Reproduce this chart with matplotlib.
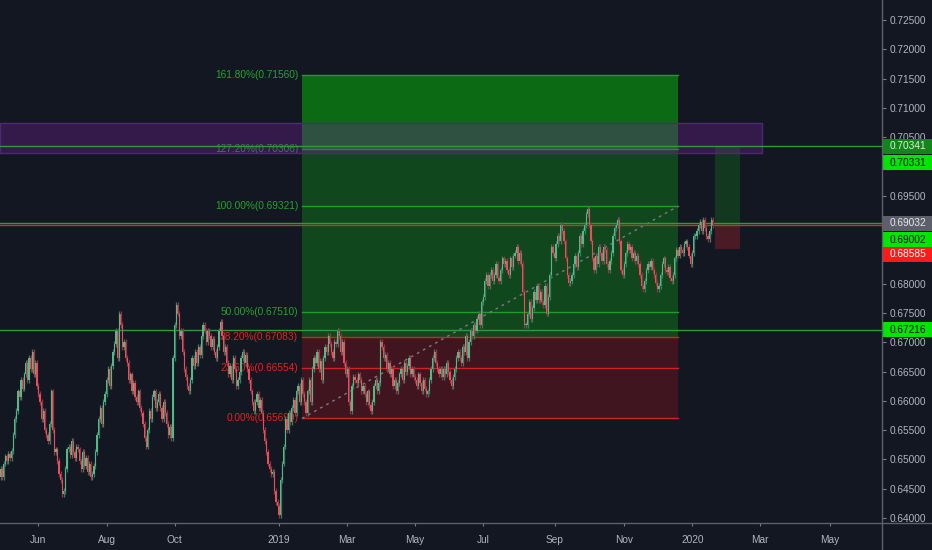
import numpy as np
import pandas as pd
import matplotlib
matplotlib.use("Agg")
import matplotlib.pyplot as plt
from matplotlib.patches import Rectangle
from matplotlib.lines import Line2D
from matplotlib.transforms import offset_copy

BG = "#131722"
TEXT = "#b2b5be"
AXIS = "#787b86"
UP = "#53b987"
DOWN = "#eb4d5c"
UP_WICK = "#3d7a62"
DOWN_WICK = "#8c3844"

# first bar of the series is 176 weekdays before 2019-01-01
ANCHOR_DATE = "2019-01-01"
ANCHOR_BAR = 176

# daily closes in pips (x 0.0001)
FIRST_OPEN = 6470
CLOSES = [
    6484, 6470, 6493, 6505, 6498, 6510, 6503, 6514, 6542, 6569,
    6583, 6616, 6607, 6635, 6621, 6645, 6664, 6635, 6673, 6654,
    6683, 6645, 6664, 6626, 6612, 6598, 6569, 6583, 6550, 6542,
    6531, 6560, 6616, 6550, 6512, 6517, 6498, 6475, 6465, 6441,
    6446, 6484, 6517, 6522, 6508, 6531, 6512, 6503, 6522, 6517,
    6498, 6484, 6512, 6489, 6503, 6479, 6493, 6470, 6475, 6489,
    6512, 6542, 6569, 6588, 6560, 6598, 6612, 6635, 6654, 6626,
    6659, 6683, 6697, 6720, 6673, 6749, 6730, 6692, 6701, 6673,
    6664, 6635, 6645, 6616, 6631, 6607, 6598, 6616, 6588, 6579,
    6560, 6536, 6522, 6550, 6583, 6569, 6607, 6616, 6588, 6598,
    6612, 6588, 6569, 6598, 6579, 6560, 6542, 6555, 6536, 6673,
    6730, 6763, 6749, 6711, 6720, 6683, 6654, 6640, 6626, 6616,
    6635, 6673, 6659, 6683, 6664, 6692, 6678, 6711, 6730, 6720,
    6701, 6720, 6711, 6692, 6706, 6683, 6673, 6692, 6720, 6735,
    6711, 6683, 6692, 6664, 6645, 6659, 6635, 6673, 6654, 6626,
    6635, 6649, 6673, 6683, 6664, 6678, 6654, 6635, 6616, 6598,
    6583, 6598, 6612, 6588, 6602, 6579, 6550, 6531, 6512, 6493,
    6484, 6475, 6479, 6446, 6427, 6420, 6405, 6465, 6493, 6522,
    6569, 6550, 6579, 6564, 6588, 6602, 6579, 6616, 6626, 6598,
    6635, 6612, 6598, 6579, 6616, 6635, 6598, 6654, 6673, 6664,
    6683, 6654, 6668, 6635, 6673, 6692, 6683, 6711, 6697, 6683,
    6673, 6701, 6697, 6720, 6711, 6683, 6701, 6664, 6645, 6654,
    6598, 6583, 6626, 6640, 6635, 6631, 6645, 6635, 6616, 6626,
    6612, 6598, 6616, 6593, 6583, 6598, 6626, 6635, 6616, 6631,
    6701, 6692, 6673, 6678, 6654, 6664, 6645, 6654, 6626, 6635,
    6616, 6631, 6645, 6654, 6635, 6664, 6649, 6659, 6673, 6645,
    6654, 6640, 6635, 6626, 6645, 6631, 6616, 6635, 6621, 6612,
    6616, 6635, 6654, 6673, 6683, 6664, 6654, 6645, 6654, 6640,
    6654, 6645, 6664, 6649, 6635, 6626, 6640, 6654, 6673, 6683,
    6673, 6664, 6692, 6683, 6711, 6673, 6701, 6720, 6711, 6730,
    6720, 6739, 6749, 6730, 6768, 6777, 6805, 6815, 6796, 6815,
    6824, 6805, 6815, 6834, 6810, 6805, 6824, 6843, 6834, 6839,
    6824, 6815, 6843, 6829, 6848, 6853, 6862, 6839, 6853, 6834,
    6786, 6730, 6730, 6749, 6768, 6739, 6758, 6786, 6772, 6796,
    6772, 6786, 6768, 6763, 6796, 6749, 6777, 6815, 6862, 6853,
    6843, 6867, 6881, 6872, 6900, 6890, 6872, 6843, 6815, 6801,
    6805, 6815, 6834, 6848, 6829, 6853, 6881, 6867, 6890, 6900,
    6919, 6928, 6900, 6872, 6843, 6824, 6848, 6834, 6862, 6853,
    6839, 6862, 6857, 6834, 6824, 6839, 6853, 6881, 6895, 6900,
    6909, 6872, 6824, 6815, 6834, 6853, 6867, 6857, 6862, 6843,
    6853, 6839, 6848, 6834, 6815, 6796, 6791, 6805, 6824, 6834,
    6829, 6839, 6824, 6815, 6801, 6791, 6796, 6815, 6834, 6843,
    6824, 6820, 6829, 6810, 6805, 6815, 6843, 6857, 6848, 6862,
    6857, 6853, 6867, 6872, 6862, 6848, 6834, 6853, 6881, 6881,
    6890, 6900, 6905, 6890, 6909, 6895, 6881, 6876, 6890, 6909,
    6900,
]

TICK_MONTHS = ["2018-06", "2018-08", "2018-10", "2019-01", "2019-03", "2019-05",
               "2019-07", "2019-09", "2019-11", "2020-01", "2020-03", "2020-05"]
TICK_LABELS = ["Jun", "Aug", "Oct", "2019", "Mar", "May",
               "Jul", "Sep", "Nov", "2020", "Mar", "May"]

# price scale labels hidden behind tags in the original
HIDDEN_PRICE_LABELS = ["0.70000", "0.69000", "0.68500"]

FIB_PRICES = [0.65699, 0.66554, 0.67083, 0.67510, 0.69321, 0.70306, 0.71560]
FIB_TEXT = ["0.00%(0.65699)", "23.60%(0.66554)", "38.20%(0.67083)", "50.00%(0.67510)",
            "100.00%(0.69321)", "127.20%(0.70306)", "161.80%(0.71560)"]
FIB_LINE_COLORS = ["#d32020", "#d32020", "#d32020", "#1e9e28", "#1e9e28", "#1e9e28", "#1e9e28"]
FIB_TEXT_COLORS = ["#f01c1c", "#f01c1c", "#f01c1c", "#22a52b", "#22a52b", "#22a52b", "#22a52b"]
FIB_ZONE_COLORS = ["#41151f", "#41151f", "#11471d", "#11471d", "#11471d", "#0c6a14"]
FIB_BARS = (190.5, 428.0)

ZONE = (0.70230, 0.70742)
ZONE_BARS = (-0.4, 481.0)

ENTRY, TARGET, STOP = 0.69002, 0.70331, 0.68585
POS_BARS = (451.4, 467.2)

HLINES = [0.70341, 0.69032, 0.69002, 0.67216]
HLINE_COLORS = ["#2f9a39", "#2f9a39", "#b23a3a", "#2f9a39"]

TAGS = [0.70341, 0.70331, 0.69032, 0.69002, 0.68585, 0.67216]
TAG_BG = ["#13861b", "#00e600", "#5d606b", "#00e600", "#ff1a1a", "#00e600"]
TAG_FG = ["#d6efd6", "#0b0b0b", "#e6e8ee", "#0b0b0b", "#ffffff", "#0b0b0b"]
TAG_SHIFT = [0, 15.5, 0, 14.6, 5, 0]  # pixels pushed down to avoid overlap

plt.rcParams["font.family"] = ["Liberation Sans", "DejaVu Sans"]
plt.rcParams["font.size"] = 7.3

W, H = 932, 550
fig = plt.figure(figsize=(W / 100, H / 100), dpi=100, facecolor=BG)
ax = fig.add_axes([0, 27 / H, 882 / W, 523 / H])
ax.set_facecolor(BG)
for s in ax.spines.values():
    s.set_visible(False)

ylo, yhi = 0.639146, 0.728414
ax.set_ylim(ylo, yhi)
ax.set_xlim(-0.32, 556.9)

# bar index <-> dates
start = pd.bdate_range(end=ANCHOR_DATE, periods=ANCHOR_BAR + 1)[0]
days = pd.bdate_range(start, periods=700)
tick_pos = [int(days.searchsorted(pd.Timestamp(m + "-01"))) for m in TICK_MONTHS]

# fib retracement
fx0, fx1 = FIB_BARS
for i, c in enumerate(FIB_ZONE_COLORS):
    ax.add_patch(Rectangle((fx0, FIB_PRICES[i]), fx1 - fx0, FIB_PRICES[i + 1] - FIB_PRICES[i],
                           facecolor=c, edgecolor="none", zorder=1))
for p, lc in zip(FIB_PRICES, FIB_LINE_COLORS):
    ax.plot([fx0, fx1], [p, p], color=lc, lw=1, zorder=1.5)
lab_tr = offset_copy(ax.transData, fig=fig, x=-4, y=0, units="dots")
for p, t, tc in zip(FIB_PRICES, FIB_TEXT, FIB_TEXT_COLORS):
    ax.text(fx0, p, t, color=tc, ha="right", va="center", transform=lab_tr, zorder=1.8)
ax.plot([fx0, fx1], [FIB_PRICES[0], FIB_PRICES[4]], color=AXIS, lw=1,
        ls=(0, (2, 3)), zorder=2)

# long position tool
px0, px1 = POS_BARS
ax.add_patch(Rectangle((px0, ENTRY), px1 - px0, TARGET - ENTRY,
                       facecolor="#12381f", edgecolor="none", zorder=1))
ax.add_patch(Rectangle((px0, STOP), px1 - px0, ENTRY - STOP,
                       facecolor="#4a1a25", edgecolor="none", zorder=1))

# purple supply zone
ax.add_patch(Rectangle((ZONE_BARS[0], ZONE[0]), ZONE_BARS[1] - ZONE_BARS[0], ZONE[1] - ZONE[0],
                       facecolor="#7b1fa2", alpha=0.32, edgecolor="none", zorder=2.2))
ax.add_patch(Rectangle((ZONE_BARS[0], ZONE[0]), ZONE_BARS[1] - ZONE_BARS[0], ZONE[1] - ZONE[0],
                       facecolor="none", edgecolor="#4b2a72", lw=1, zorder=2.2))

for p, lc in zip(HLINES, HLINE_COLORS):
    ax.axhline(p, color=lc, lw=1, zorder=2.5)

# candles
closes = np.array(CLOSES) / 10000
opens = np.r_[FIRST_OPEN / 10000, closes[:-1]]
xs = np.arange(len(closes))
up = closes >= opens
top = np.maximum(opens, closes)
bot = np.minimum(opens, closes)
wick = 0.0005
ax.vlines(xs, bot - wick, top + wick, colors=np.where(up, UP_WICK, DOWN_WICK),
          lw=0.9, zorder=3)
ax.bar(xs, np.maximum(top - bot, 0.00014), bottom=bot, width=0.78,
       color=np.where(up, UP, DOWN), linewidth=0, zorder=3.5)

# axes
ax.set_xticks(tick_pos)
ax.set_xticklabels(TICK_LABELS)
ax.tick_params(axis="x", colors=AXIS, labelcolor=TEXT, length=2.5, width=0.8, pad=6)
ax.yaxis.tick_right()
price_ticks = np.arange(0.640, 0.7251, 0.005)
price_labels = ["%.5f" % v for v in price_ticks]
price_labels = ["" if s in HIDDEN_PRICE_LABELS else s for s in price_labels]
ax.set_yticks(price_ticks)
ax.set_yticklabels(price_labels)
ax.tick_params(axis="y", colors=AXIS, labelcolor=TEXT, length=3, width=0.8, pad=2.5)

fig.add_artist(Line2D([882 / W, 882 / W], [0, 1], color="#5d606b", lw=1))
fig.add_artist(Line2D([0, 1], [27 / H, 27 / H], color="#5d606b", lw=1))

# price tags on the scale
tag_ax = fig.add_axes([882 / W, 27 / H, 50 / W, 523 / H], sharey=ax)
tag_ax.set_xlim(0, 1)
tag_ax.patch.set_visible(False)
tag_ax.axis("off")
box_h = 15 / 5858.8
for p, bg, fg, sh in zip(TAGS, TAG_BG, TAG_FG, TAG_SHIFT):
    tr = offset_copy(tag_ax.transData, fig=fig, x=0, y=-sh, units="dots")
    tag_ax.add_patch(Rectangle((0.02, p - box_h / 2), 0.98, box_h, facecolor=bg,
                               edgecolor="none", transform=tr, clip_on=False))
    tag_ax.text(0.16, p, "%.5f" % p, color=fg, ha="left", va="center",
                transform=tr, clip_on=False)

fig.savefig("out.png", dpi=100, facecolor=BG)
